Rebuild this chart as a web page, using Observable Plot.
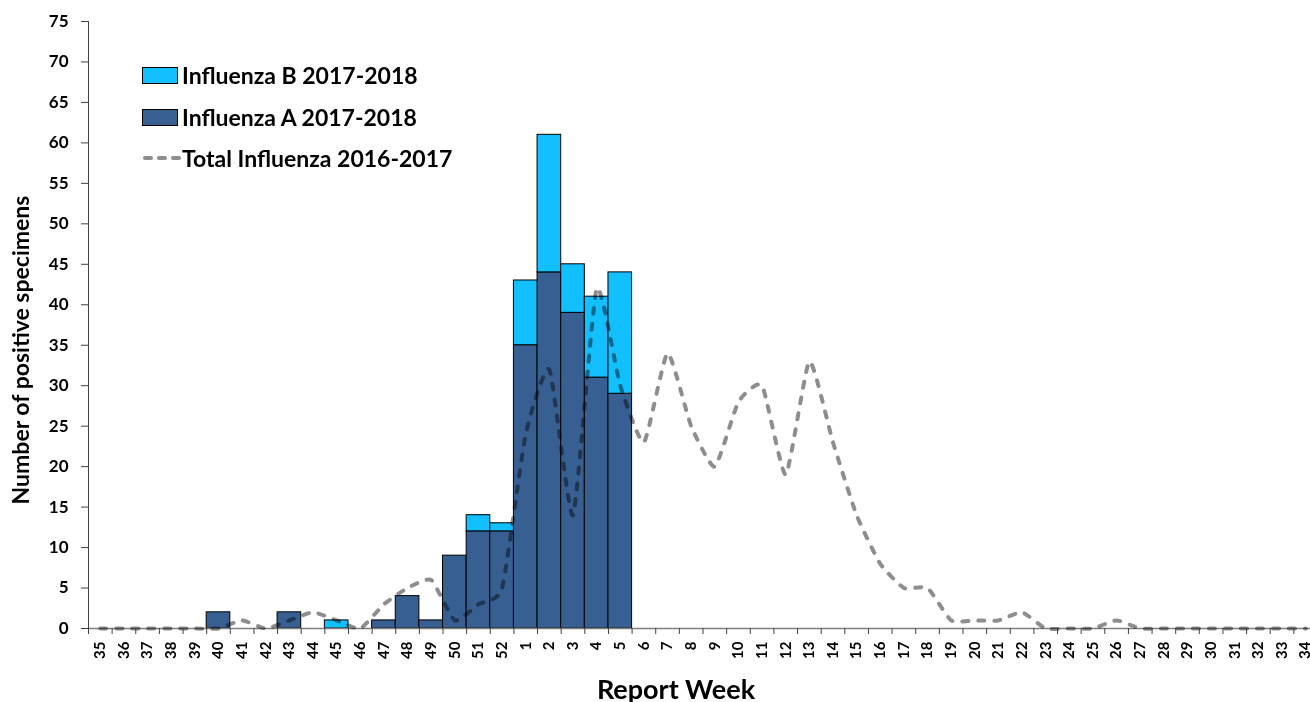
<!DOCTYPE html>
<html>
<head>
<meta charset="utf-8">
<script src="https://cdn.jsdelivr.net/npm/d3@7"></script>
<script src="https://cdn.jsdelivr.net/npm/@observablehq/plot@0.6"></script>
<style>
  html, body { margin: 0; padding: 0; background: #fff; overflow: hidden; }
  #wrap { position: relative; width: 1310px; height: 702px; font-family: Lato, "Open Sans", sans-serif; }
  .legend { position: absolute; left: 142px; font-weight: 700; font-size: 23px; color: #000; display: flex; align-items: center; }
  .sw { width: 36px; height: 17px; border: 1px solid #000; box-sizing: border-box; margin-right: 4px; }
  .ytitle { position: absolute; left: 20px; top: 350px; transform: translate(-50%, -50%) rotate(-90deg); white-space: nowrap; font-weight: 700; font-size: 23px; }
  .xtitle { position: absolute; left: 676px; top: 673px; transform: translateX(-50%); white-space: nowrap; font-weight: 700; font-size: 27px; line-height: 1.2; }
</style>
</head>
<body>
<div id="wrap"></div>
<script>
const weeks = ["35","36","37","38","39","40","41","42","43","44","45","46","47","48","49","50","51","52",
  "1","2","3","4","5","6","7","8","9","10","11","12","13","14","15","16","17","18","19","20",
  "21","22","23","24","25","26","27","28","29","30","31","32","33","34"];
// Influenza A 2017-2018 (weeks 35..5)
const fluA = [0,0,0,0,0,2,0,0,2,0,0,0,1,4,1,9,12,12,35,44,39,31,29];
// Influenza B 2017-2018 (weeks 35..5)
const fluB = [0,0,0,0,0,0,0,0,0,0,1,0,0,0,0,0,2,1,8,17,6,10,15];
// Total Influenza 2016-2017 (weeks 35..34)
const total2016 = [0,0,0,0,0,0,1,0,1,2,1,0,3,5,6,1,3,5,
  24,32,14,42,30,23,34,25,20,28,30,19,33,23,14,8,5,5,1,1,1,2,0,0,0,1,0,0,0,0,0,0,0,0];
const yTicks = [0,5,10,15,20,25,30,35,40,45,50,55,60,65,70,75];

const colA = "#375f92", colB = "#12bfff", colLine = "#8e8e8e";

const bars = [];
fluA.forEach((v, i) => { if (v > 0) bars.push({week: weeks[i], type: "A", value: v}); });
fluB.forEach((v, i) => { if (v > 0) bars.push({week: weeks[i], type: "B", value: v}); });
const lineData = total2016.map((v, i) => ({week: weeks[i], value: v}));

const W = 1310, H = 702, mL = 88, mT = 21, mB = 74, xEnd = 1317;
const bw = (xEnd - mL) / weeks.length;

const chart = Plot.plot({
  width: W, height: H,
  marginLeft: mL, marginTop: mT, marginBottom: mB, marginRight: 0,
  style: {fontFamily: "Lato, 'Open Sans', sans-serif", background: "#fff", overflow: "visible"},
  x: {type: "band", domain: weeks, range: [mL, xEnd], padding: 0},
  y: {domain: [0, 75], range: [H - mB, mT]},
  color: {domain: ["A", "B"], range: [colA, colB]},
  marks: [
    Plot.barY(bars, {x: "week", y: "value", fill: "type", order: ["A", "B"],
      stroke: "#000", strokeWidth: 1, inset: 0}),
    Plot.ruleY([0], {stroke: "#7f7f7f", strokeWidth: 1.5}),
    Plot.line(lineData, {x: "week", y: "value", stroke: colLine, strokeWidth: 4,
      strokeDasharray: "6,10", curve: "cardinal", tension: 0.5, strokeLinecap: "round",
      mixBlendMode: "multiply"}),
    Plot.ruleX(weeks, {x: d => d, y1: 0, y2: 0, dx: -bw / 2,
      insetBottom: -6, stroke: "#404040", strokeWidth: 1}),
    Plot.frame({anchor: "left", stroke: "#404040", strokeWidth: 1}),
    Plot.axisY({ticks: yTicks, tickSize: 7, tickPadding: 13, fontSize: 17, fontWeight: 700,
      label: null, stroke: "#404040", fill: "#000"}),
    Plot.axisX({tickSize: 0, tickPadding: 13, tickRotate: -90, fontSize: 15, fontWeight: 700,
      label: null, fill: "#000"})
  ]
});

const wrap = document.getElementById("wrap");
wrap.appendChild(chart);

const legendItems = [
  {label: "Influenza B 2017-2018", kind: "box", color: colB, top: 61},
  {label: "Influenza A 2017-2018", kind: "box", color: colA, top: 103},
  {label: "Total Influenza 2016-2017", kind: "dash", color: colLine, top: 144}
];
legendItems.forEach(it => {
  const d = document.createElement("div");
  d.className = "legend";
  d.style.top = it.top + "px";
  let sw;
  if (it.kind === "box") {
    sw = `<div class="sw" style="background:${it.color}"></div>`;
  } else {
    sw = `<svg width="40" height="16" style="margin-right:0px"><line x1="3" x2="38" y1="8" y2="8" stroke="${it.color}" stroke-width="4" stroke-linecap="round" stroke-dasharray="6,8"/></svg>`;
  }
  d.innerHTML = sw + `<span>${it.label}</span>`;
  wrap.appendChild(d);
});

const yt = document.createElement("div");
yt.className = "ytitle";
yt.textContent = "Number of positive specimens";
wrap.appendChild(yt);

const xt = document.createElement("div");
xt.className = "xtitle";
xt.textContent = "Report Week";
wrap.appendChild(xt);
</script>
</body>
</html>
